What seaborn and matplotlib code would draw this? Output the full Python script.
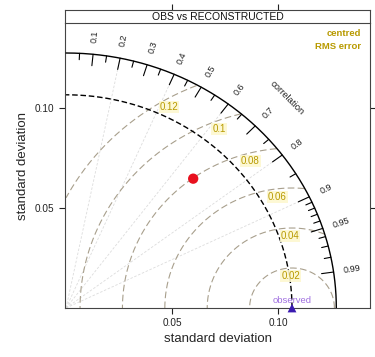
import numpy as np
import pandas as pd
import matplotlib
matplotlib.use("Agg")
import matplotlib.pyplot as plt
import seaborn as sns

# ---- data ----
panel_title = "OBS vs RECONSTRUCTED"
obs_sd = 0.1066
model_sd = [0.0882]
model_cor = [0.680]
max_sd = 0.1275
rms_levels = [0.02, 0.04, 0.06, 0.08, 0.10, 0.12]
rms_labels = ["0.02", "0.04", "0.06", "0.08", "0.1", "0.12"]
cor_major = [0.1, 0.2, 0.3, 0.4, 0.5, 0.6, 0.7, 0.8, 0.9, 0.95, 0.99]
cor_major_labels = ["0.1", "0.2", "0.3", "0.4", "0.5", "0.6", "0.7", "0.8", "0.9", "0.95", "0.99"]
cor_minor = [0.05, 0.15, 0.25, 0.35, 0.45, 0.55, 0.65, 0.75, 0.85,
             0.91, 0.92, 0.93, 0.94, 0.96, 0.97, 0.98]
cor_grid = [0.2, 0.4, 0.6, 0.8, 0.9]
sd_ticks = [0.05, 0.10]
sd_tick_labels = ["0.05", "0.10"]

# layout: angle (deg, around the observed point) where each RMS label sits
rms_label_angles = [92, 91.5, 97, 105, 111, 120]

sns.set_theme(style="white")
plt.rcParams['font.family'] = ['Liberation Sans', 'DejaVu Sans']

W, H = 375, 357
fig = plt.figure(figsize=(W / 100, H / 100), dpi=100)
L, R, B, T = 65, 370, 308, 23
ax = fig.add_axes([L / W, 1 - B / H, (R - L) / W, (B - T) / H])
sax = fig.add_axes([L / W, 1 - T / H, (R - L) / W, 13 / H])

gold = "#b89a00"

# radial correlation grid lines
for c in cor_grid:
    ax.plot([0, max_sd * c], [0, max_sd * np.sqrt(1 - c ** 2)], color="#dcdcdc",
            lw=0.6, ls=(0, (3, 2)), zorder=1)

# RMS contours
t = np.linspace(0, np.pi, 600)
for r, lab, ang in zip(rms_levels, rms_labels, rms_label_angles):
    x = obs_sd + r * np.cos(t)
    y = r * np.sin(t)
    m = (np.hypot(x, y) <= max_sd) & (x >= 0)
    xx = np.where(m, x, np.nan)
    ax.plot(xx, y, color="#a89f8c", lw=0.8, ls=(0, (6, 3)), zorder=2)
    rr = r - 0.004
    ax.text(obs_sd + rr * np.cos(np.radians(ang)), rr * np.sin(np.radians(ang)), lab,
            color=gold, fontsize=7, ha="center", va="center", zorder=4,
            bbox=dict(boxstyle="square,pad=0.1", fc="#fdf8d0", ec="none", alpha=0.9))

# obs sd arc
a = np.linspace(0, np.pi / 2, 300)
ax.plot(obs_sd * np.cos(a), obs_sd * np.sin(a), color="black", lw=1.0,
        ls=(0, (4, 2)), zorder=3)
# outer arc
ax.plot(max_sd * np.cos(a), max_sd * np.sin(a), color="black", lw=1.0, zorder=3)

# correlation ticks
for c in cor_major:
    th = np.arccos(c)
    ax.plot([max_sd * np.cos(th), max_sd * 0.955 * np.cos(th)],
            [max_sd * np.sin(th), max_sd * 0.955 * np.sin(th)], color="black", lw=0.8)
for c in cor_minor:
    th = np.arccos(c)
    ax.plot([max_sd * np.cos(th), max_sd * 0.975 * np.cos(th)],
            [max_sd * np.sin(th), max_sd * 0.975 * np.sin(th)], color="black", lw=0.8)
for c, lab in zip(cor_major, cor_major_labels):
    th = np.arccos(c)
    ax.text(max_sd * 1.07 * np.cos(th), max_sd * 1.07 * np.sin(th), lab,
            rotation=np.degrees(th), fontsize=6.5, ha="center", va="center",
            rotation_mode="anchor", color="#222222")
ax.text(0.1042, 0.1050, "correlation", rotation=-45, fontsize=6.8, ha="center",
        va="center", rotation_mode="anchor", color="#222222")

# points
mod = pd.DataFrame({"x": np.array(model_sd) * np.array(model_cor),
                    "y": np.array(model_sd) * np.sqrt(1 - np.array(model_cor) ** 2)})
sns.scatterplot(data=mod, x="x", y="y", ax=ax, color="#e8101e", s=55,
                edgecolor="none", zorder=6, clip_on=False)
obs = pd.DataFrame({"x": [obs_sd], "y": [0.0]})
sns.scatterplot(data=obs, x="x", y="y", ax=ax, color="#3a1ab0", s=40, marker="^",
                edgecolor="none", zorder=6, clip_on=False)
ax.text(obs_sd, 0.0038, "observed", color="#a070e0", fontsize=6.8, ha="center",
        va="center", zorder=5)

ax.text(0.139, 0.137, "centred", color=gold, fontsize=6.8, ha="right", va="center",
        fontweight="bold")
ax.text(0.139, 0.1305, "RMS error", color=gold, fontsize=6.8, ha="right", va="center",
        fontweight="bold")

ax.set_xlim(-0.0005, (R - 66) / 2120)
ax.set_ylim(0, (B - T) / 2000)
ax.set_xticks(sd_ticks)
ax.set_xticklabels(sd_tick_labels)
ax.set_yticks(sd_ticks)
ax.set_yticklabels(sd_tick_labels)
ax.tick_params(axis="both", direction="out", length=4, width=0.8, labelsize=7.2,
               colors="#222222", bottom=True, left=True, right=True, top=False)
ax.tick_params(axis="y", labelright=False)
ax.set_xlabel("standard deviation", fontsize=9.5, labelpad=3)
ax.set_ylabel("standard deviation", fontsize=9.5, labelpad=4)
for s in ax.spines.values():
    s.set_color("#444444")
    s.set_linewidth(0.8)
ax.spines["top"].set_visible(False)
ax.grid(False)

# strip
sax.set_xlim(ax.get_xlim())
sax.set_ylim(0, 1)
sax.set_xticks(sd_ticks)
sax.set_xticklabels([])
sax.set_yticks([])
sax.tick_params(axis="x", top=True, bottom=False, direction="out", length=4,
                width=0.8, labeltop=False, labelbottom=False, colors="#222222")
for s in sax.spines.values():
    s.set_color("#444444")
    s.set_linewidth(0.8)
sax.set_facecolor("white")
sax.text(0.5, 0.5, panel_title, transform=sax.transAxes, ha="center", va="center",
         fontsize=7.5, color="#111111")

fig.savefig("out.png", dpi=100)
